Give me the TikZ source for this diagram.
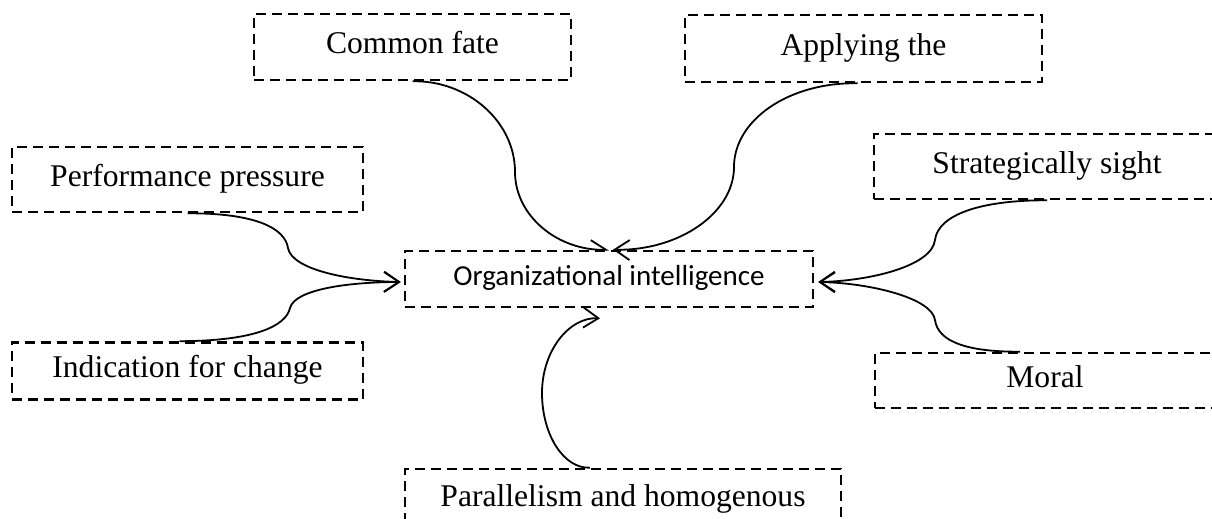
\documentclass[tikz,border=0pt]{standalone}
\usepackage{fontspec}
\setmainfont{Liberation Serif}
\newfontfamily\calfont{Carlito}
\usetikzlibrary{arrows.meta}
\tikzset{
  dbox/.style={draw, line width=1.3pt, dash pattern=on 5pt off 3pt, inner sep=0pt,
    font=\fontsize{15.8}{19}\selectfont, text height=11pt, text depth=4pt},
  cbox/.style={dbox, font=\calfont\fontsize{14.5}{17}\selectfont, text height=10pt, text depth=3.5pt},
  conn/.style={line width=0.9pt},
  arr/.style={conn, -{Straight Barb[length=7.5pt,width=10pt,line width=0.9pt]}},
  harr/.style={conn, -{Straight Barb[length=7.5pt,width=10pt,line width=0.9pt,harpoon]}}
}
\begin{document}
\begin{tikzpicture}[x=0.5pt,y=-0.5pt]
\useasboundingbox (0,0) rectangle (1212,519);
\clip (0,0) rectangle (1212,519);

\node[dbox, minimum width=158.5pt, minimum height=33pt] (cf) at (412.5,47) {Common fate};
\node[dbox, minimum width=178.5pt, minimum height=33.5pt] (ap) at (863.5,48.5) {Applying the};
\node[dbox, minimum width=175.5pt, minimum height=32.5pt] (pp) at (187.5,179.5) {Performance pressure};
\node[dbox, minimum width=175.5pt, minimum height=28.5pt] (ic) at (187.5,371) {Indication for change};
\node[cbox, minimum width=204pt, minimum height=28pt] (oi) at (609,279) {Organizational intelligence};
\node[dbox, minimum width=173pt, minimum height=32.5pt] (ss) at (1047,166.5) {Strategically sight};
\node[dbox, minimum width=170pt, minimum height=27.5pt] (mo) at (1045,380.5) {Moral};
\node[dbox, minimum width=218pt, minimum height=30pt] (pa) at (623,499) {Parallelism and homogenous};

% top connectors
\draw[harr] (cf.south) .. controls (467,80) and (515,121) .. (515,172)
  .. controls (515,216) and (558,251) .. (oi.north);
\draw[arr] ([xshift=-3pt]ap.south) .. controls (789,82) and (734,120) .. (734,167)
  .. controls (734,213) and (679,251) .. ([xshift=2pt]oi.north);
% left connectors
\draw[arr] (pp.south) .. controls (255,213) and (285,228) .. (288,248)
  .. controls (292,270) and (350,281) .. ([xshift=-1.5pt,yshift=-1.5pt]oi.west);
\draw[arr] ([xshift=-4pt]ic.north) .. controls (255,341) and (286,326) .. (290,308)
  .. controls (295,289) and (350,282) .. ([xshift=-1.5pt,yshift=-1.5pt]oi.west);
% right connectors
\draw[arr] (ss.south) .. controls (980,200) and (938,215) .. (935,240)
  .. controls (932,266) and (870,281) .. ([xshift=2pt,yshift=-1.5pt]oi.east);
\draw[arr] ([xshift=-12.5pt]mo.north) .. controls (968,352) and (938,342) .. (935,320)
  .. controls (932,298) and (870,283) .. ([xshift=2pt,yshift=-1.5pt]oi.east);
% bottom connector
\draw[arr] ([xshift=-16.5pt]pa.north) .. controls (564,469) and (542,435) .. (542,393)
  .. controls (542,351) and (569,317) .. ([xshift=-4.5pt,yshift=-5pt]oi.south);
\end{tikzpicture}
\end{document}
